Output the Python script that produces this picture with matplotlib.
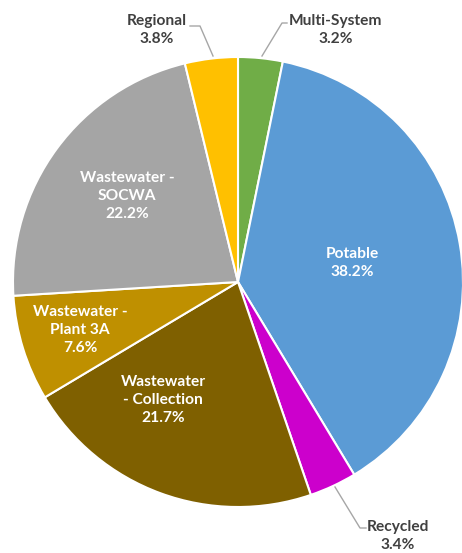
import matplotlib.pyplot as plt

# data
categories = ['Multi-System', 'Potable', 'Recycled', 'Wastewater\n- Collection',
              'Wastewater -\nPlant 3A', 'Wastewater -\nSOCWA', 'Regional']
shares = [3.2, 38.2, 3.4, 21.7, 7.6, 22.2, 3.8]
colors = ['#70AD47', '#5B9BD5', '#CC00CC', '#7F6000', '#BF9000', '#A5A5A5', '#FFC000']

W, H = 462, 553
fig = plt.figure(figsize=(W / 100, H / 100), dpi=100)
ax = fig.add_axes([0, 0, 1, 1])

cx, cy, r = 238, H - 282, 225
ax.pie(shares, colors=colors, startangle=90, counterclock=False,
       center=(cx, cy), radius=r, frame=True,
       wedgeprops=dict(edgecolor='white', linewidth=1.5))
ax.set_xlim(0, W)
ax.set_ylim(0, H)
ax.set_aspect('equal')
ax.axis('off')

# label positions in pixel coords (x, y from top)
label_pos = [(336, 30), (352, 263), (398, 536), (163, 400),
             (80, 330), (127, 196), (157, 30)]
inside = [False, True, False, True, True, True, False]

font = dict(family=['Lato', 'DejaVu Sans'], fontsize=11.2, fontweight='bold',
            ha='center', va='center', linespacing=1.32)
for cat, val, (lx, ly), ins in zip(categories, shares, label_pos, inside):
    ax.text(lx, H - ly, f'{cat}\n{val:.1f}%',
            color='white' if ins else '#404040', **font)

# leader lines
leaders = [
    [(287, 23), (282, 23), (262, 56)],   # Multi-System
    [(190, 26), (200, 26), (213, 56)],   # Regional
    [(335, 487), (360, 528), (366, 528)],  # Recycled
]
for pts in leaders:
    xs = [p[0] for p in pts]
    ys = [H - p[1] for p in pts]
    ax.plot(xs, ys, color='#A6A6A6', linewidth=1)

fig.savefig('out.png', dpi=100, facecolor='white')
